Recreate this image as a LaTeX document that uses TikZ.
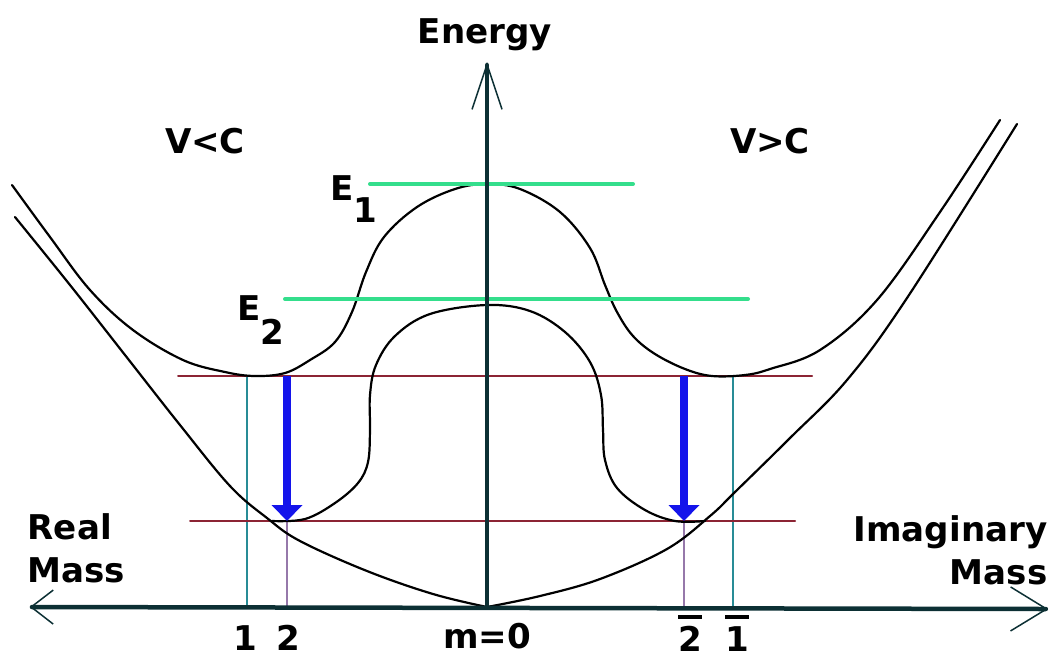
\documentclass[tikz,border=0pt]{standalone}
\usepackage{fontspec}
\setmainfont{DejaVu Sans}
\usetikzlibrary{arrows.meta}
\definecolor{axisc}{RGB}{12,48,52}
\definecolor{levelc}{RGB}{52,222,140}
\definecolor{massc}{RGB}{140,36,52}
\definecolor{dropc}{RGB}{20,20,235}
\definecolor{tealc}{RGB}{40,140,150}
\definecolor{lilac}{RGB}{150,120,170}
\newcommand{\barnum}[1]{\vbox{\hrule height 0.4mm\kern 0.7mm\hbox{#1}}}
\begin{document}
\begin{tikzpicture}[x=0.1mm,y=-0.1mm,line cap=round,line join=round,
  lbl/.style={font=\fontsize{9.7}{12.2}\selectfont\bfseries,inner sep=0pt},
  curve/.style={line width=0.22mm},
  level/.style={levelc,line width=0.4mm},
  rung/.style={massc,line width=0.2mm},
  guide/.style={line width=0.15mm},
  drop/.style={dropc,line width=0.8mm,line cap=butt,-{Triangle[width=3mm,length=1.6mm]}}]
  \useasboundingbox (0,0) rectangle (1056,657);
  \coordinate (west) at (30,607);
  \coordinate (east) at (1048,609);
  \coordinate (origin) at (487,607);
  \coordinate (top) at (487,62);
  \draw[guide,tealc] (247,376) -- (247,607);
  \draw[guide,tealc] (733,376) -- (733,607);
  \draw[guide,lilac] (287,521) -- (287,607);
  \draw[guide,lilac] (684,521) -- (684,607);
  \draw[rung] (178,376) -- (812,376);
  \draw[rung] (190,521) -- (795,521);
  \draw[curve] plot[smooth,tension=0.6] coordinates {(12,185) (50,237) (90,290) (133,330) (183,360) (225,372) (255,376) (285,373) (310,360) (335,342) (352,312) (366,272) (384,237) (417,207) (455,189) (487,184) (520,189) (560,212) (590,248) (605,285) (617,312) (633,336) (655,354) (685,369) (712,376) (745,375) (770,369) (820,350) (877,300) (940,212) (1000,120)};
  \draw[curve] plot[smooth,tension=0.6] coordinates {(272,521) (305,519) (335,503) (358,483) (368,462) (370,430) (370,395) (376,365) (395,336) (430,314) (487,305) (530,311) (565,332) (590,362) (601,395) (603,430) (605,460) (617,488) (645,510) (675,521) (705,521)};
  \draw[curve] plot[smooth,tension=0.6] coordinates {(15,217) (70,285) (125,355) (180,425) (230,486) (267,518) (300,541) (367,571) (433,594) (487,607)};
  \draw[curve] plot[smooth,tension=0.6] coordinates {(487,607) (540,596) (600,579) (667,549) (710,516) (735,492) (790,438) (847,380) (907,298) (1017,124)};
  \draw[level] (370,184) -- (633,184);
  \draw[level] (285,299) -- (748,299);
  \draw[axisc,line width=0.45mm,{Straight Barb[length=2.2mm,width=3.4mm,line width=0.15mm]}-{Straight Barb[length=3.6mm,width=4.4mm,line width=0.15mm]}] (west) -- (east);
  \draw[axisc,line width=0.45mm,-{Straight Barb[length=4.5mm,width=3mm,line width=0.15mm]}] (origin) -- (top);
  \coordinate (upl) at (287,376);
  \coordinate (lowl) at (287,521);
  \coordinate (upr) at (684,376);
  \coordinate (lowr) at (684,521);
  \draw[drop] (upl) -- (lowl);
  \draw[drop] (upr) -- (lowr);
  \node[lbl,anchor=base] (energy) at (485,43) {Energy};
  \node[lbl,anchor=base] (slow) at (205,153) {V<C};
  \node[lbl,anchor=base] (fast) at (770,153) {V>C};
  \node[lbl,anchor=base west] (eone) at (330,200) {E\raisebox{-2.2mm}{1}};
  \node[lbl,anchor=base west] (etwo) at (237,320) {E\raisebox{-2.4mm}{2}};
  \node[lbl,anchor=north west,align=left] (real) at (27,513) {Real\\Mass};
  \node[lbl,anchor=north east,align=right] (imag) at (1048,515) {Imaginary\\Mass};
  \node[lbl,anchor=base] (one) at (245,650) {1};
  \node[lbl,anchor=base] (two) at (288,650) {2};
  \node[lbl,anchor=base] (mzero) at (487,648) {m=0};
  \node[lbl,anchor=base] (twobar) at (690,651) {\barnum{2}};
  \node[lbl,anchor=base] (onebar) at (737,651) {\barnum{1}};
\end{tikzpicture}
\end{document}
